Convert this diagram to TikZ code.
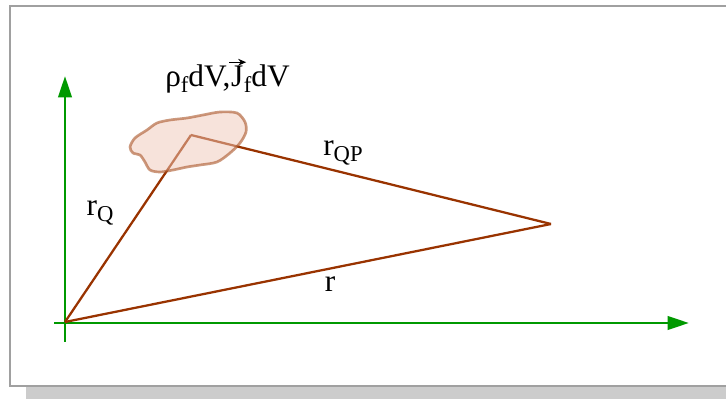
\documentclass[tikz,border=0pt]{standalone}
\usepackage{fontspec}
\setmainfont{Liberation Serif}
\usetikzlibrary{arrows.meta, positioning}
\definecolor{axGreen}{RGB}{0,153,0}
\definecolor{vecBrown}{RGB}{153,51,0}
\definecolor{blobFill}{RGB}{240,200,185}
\definecolor{blobEdge}{RGB}{170,85,40}
\definecolor{frameGray}{RGB}{160,160,160}
\definecolor{shadowGray}{RGB}{204,204,204}
\newcommand{\lowidx}[1]{\raisebox{-4.5pt}{\fontsize{17}{17}\selectfont #1}}

\begin{document}
\begin{tikzpicture}[
    x=0.75pt, y=-0.75pt,
    font=\fontsize{23.5}{26}\selectfont,
    axis/.style={draw=axGreen, line width=2.2pt},
    vec/.style={draw=vecBrown, line width=1.7pt},
    lbl/.style={inner sep=0pt, anchor=base}
]
\useasboundingbox (0,0) rectangle (726,399);
\clip (0,0) rectangle (726,399);
% frame with shadow
\fill[shadowGray] (26,22) rectangle (776,402);
\draw[frameGray, fill=white, line width=1.5pt] (10,6) rectangle (760,386);

\coordinate (O) at (65,322);
\coordinate (Q) at (191,135);
\coordinate (P) at (551,224);
\coordinate (xstart) at (54,323);
\coordinate (xtip) at (689,323);
\coordinate (ystart) at (65,342);
\coordinate (ytip) at (65,76);

% axes
\draw[axis, -{Triangle[length=16pt, width=10pt]}] (xstart) -- (xtip);
\draw[axis, -{Triangle[length=16pt, width=10pt]}] (ystart) -- (ytip);

% position vectors
\draw[vec] (O) -- (Q);
\draw[vec] (Q) -- (P);
\draw[vec] (O) -- (P);

% charge element
\fill[blobFill, fill opacity=0.5] plot[smooth cycle] coordinates {
  (130,147) (135,138) (147,130) (157,123) (170,120) (187,118) (203,115)
  (220,112) (237,113) (245,122) (246,132) (240,143) (230,153) (217,162)
  (200,165) (187,167) (173,170) (160,172) (150,170) (145,162) (140,155) (133,153)};
\draw[blobEdge, opacity=0.6, line width=2pt] plot[smooth cycle] coordinates {
  (130,147) (135,138) (147,130) (157,123) (170,120) (187,118) (203,115)
  (220,112) (237,113) (245,122) (246,132) (240,143) (230,153) (217,162)
  (200,165) (187,167) (173,170) (160,172) (150,170) (145,162) (140,155) (133,153)};

% labels
\node[lbl, anchor=base west] (rho) at (165,87) {ρ\lowidx{f}dV,};
\node[lbl, base right=0pt of rho] (J) {J};
\node[lbl, base right=0pt of J] (JdV) {\lowidx{f}dV};
\draw[-{Stealth[length=6pt, width=5pt]}, line width=1pt]
  ([xshift=-1pt, yshift=3pt]J.north west) -- ([xshift=2pt, yshift=3pt]J.north east);
\node[lbl] (rQ) at (100,216) {r\lowidx{Q}};
\node[lbl] (rQP) at (343,156) {r\lowidx{QP}};
\node[lbl] (rOP) at (330,292) {r};
\end{tikzpicture}
\end{document}
